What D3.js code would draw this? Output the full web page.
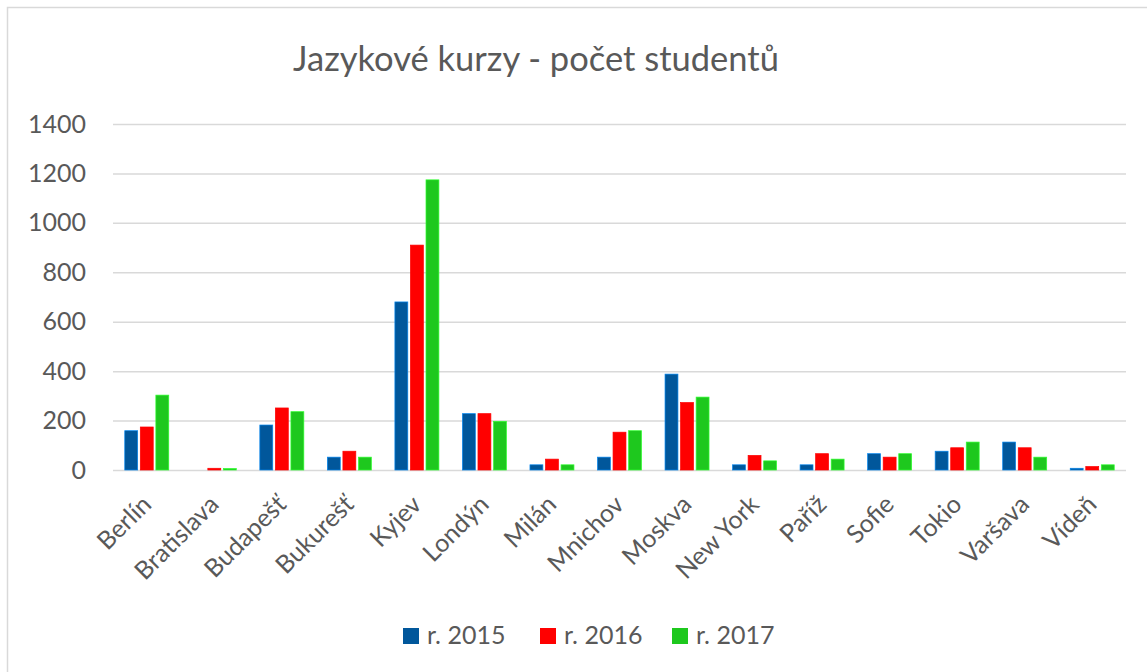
<!DOCTYPE html>
<html>
<head>
<meta charset="utf-8">
<script src="https://cdn.jsdelivr.net/npm/d3@7"></script>
<style>
  body { margin: 0; background: #fff; }
  text { font-family: Lato, "Open Sans", sans-serif; fill: #595959; }
</style>
</head>
<body>
<div id="container"></div>
<script>
var cities = ['Berlín', 'Bratislava', 'Budapešť', 'Bukurešť', 'Kyjev', 'Londýn', 'Milán', 'Mnichov',
  'Moskva', 'New York', 'Paříž', 'Sofie', 'Tokio', 'Varšava', 'Vídeň'];
var years = ['r. 2015', 'r. 2016', 'r. 2017'];
var v2015 = [159, 0, 182, 52, 680, 228, 21, 52, 388, 21, 21, 66, 76, 113, 7];
var v2016 = [174, 7, 251, 76, 910, 228, 44, 153, 273, 59, 66, 52, 90, 90, 14];
var v2017 = [303, 6, 236, 52, 1174, 197, 21, 159, 295, 37, 44, 66, 113, 52, 21];
var yTicks = [0, 200, 400, 600, 800, 1000, 1200, 1400];
var colors = ['#01579b', '#ff0000', '#1ec81e'];

var width = 1147, height = 672;
var svg = d3.select('#container').append('svg')
  .attr('width', width)
  .attr('height', height);

// chart frame (cut off on right and bottom)
svg.append('rect')
  .attr('x', 7.5).attr('y', 7.5)
  .attr('width', 1200).attr('height', 700)
  .attr('fill', 'none')
  .attr('stroke', '#d9d9d9')
  .attr('stroke-width', 1.5);

svg.append('text')
  .attr('x', 536).attr('y', 71)
  .attr('text-anchor', 'middle')
  .style('font-size', '34.5px')
  .text('Jazykové kurzy - počet studentů');

var x = d3.scaleBand().domain(cities).range([113, 1126]);
var y = d3.scaleLinear().domain([0, 1400]).range([470, 124]);
var inner = d3.scaleBand().domain(years).range([0, 44]).paddingInner(0.17);
var offset = (x.bandwidth() - 44) / 2;

var yAxis = svg.append('g')
  .attr('transform', 'translate(113,0)')
  .call(d3.axisLeft(y).tickValues(yTicks).tickFormat(d3.format('d')).tickSize(-1013).tickPadding(27));
yAxis.select('.domain').remove();
yAxis.selectAll('line').attr('stroke', '#d9d9d9').attr('stroke-width', 1.5);
yAxis.selectAll('text').style('font-size', '25px').attr('fill', '#595959')
  .style('font-family', 'Lato, sans-serif');

var series = [v2015, v2016, v2017];
series.forEach(function(vals, s) {
  svg.append('g').selectAll('rect')
    .data(vals)
    .enter()
    .append('rect')
    .attr('x', function(d, i) { return x(cities[i]) + offset + inner(years[s]); })
    .attr('y', function(d) { return y(d); })
    .attr('width', inner.bandwidth())
    .attr('height', function(d) { return y(0) - y(d); })
    .attr('fill', colors[s])
    .attr('stroke', d3.color(colors[s]).brighter(1.2))
    .attr('stroke-width', 0.7);
});

var xAxis = svg.append('g');
xAxis.selectAll('text')
  .data(cities)
  .enter()
  .append('text')
  .attr('text-anchor', 'end')
  .attr('transform', function(d) {
    return 'translate(' + (x(d) + x.bandwidth() / 2 + 6) + ',506) rotate(-45)';
  })
  .style('font-size', '25px')
  .text(function(d) { return d; });

var legendX = [403, 540, 672];
var legend = svg.append('g');
years.forEach(function(t, i) {
  legend.append('rect')
    .attr('x', legendX[i]).attr('y', 628)
    .attr('width', 16).attr('height', 16)
    .attr('fill', colors[i]);
  legend.append('text')
    .attr('x', legendX[i] + 24).attr('y', 644)
    .style('font-size', '25px')
    .text(t);
});
</script>
</body>
</html>
